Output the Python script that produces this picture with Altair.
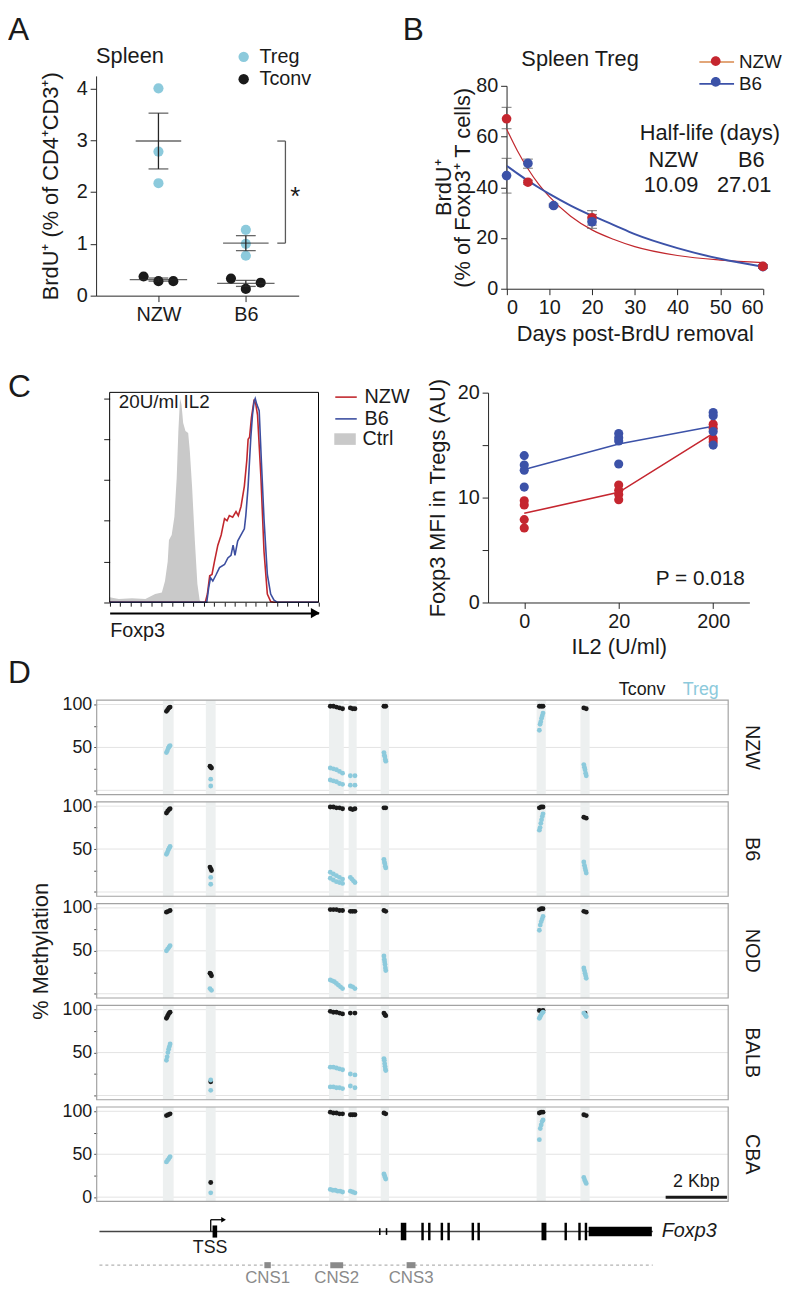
import altair as alt
import numpy as np
import pandas as pd

FONT = "Liberation Sans"
INK = "#1a1a1a"
AX = "#262626"
RED = "#c5262f"
BLUE = "#3c52a8"
ORANGE = "#d8884c"
HRED = "#c1272d"
HBLUE = "#3c4ea0"
TREG_C = "#8ccadc"
CTRL_C = "#c9c9c9"
BAND_C = "#edf0f0"
FRAME_C = "#a3a3a3"
CNS_C = "#8a8a8a"

# ---------------- Panel A data ----------------
A_STRAINS = ["NZW", "B6"]
A_TREG_NZW = [4.0, 2.78, 2.17]
A_TREG_B6 = [1.27, 1.0, 0.77]
A_TCONV_NZW = [0.37, 0.28, 0.28]
A_TCONV_B6 = [0.33, 0.13, 0.25]

# ---------------- Panel B data ----------------
B_SERIES = ["NZW", "B6"]
B_DAYS_NZW = [0, 5, 20, 60]
B_MEAN_NZW = [67.0, 42.0, 28.0, 8.8]
B_LO_NZW = [63.1, 41.2, 25.1, 8.1]
B_HI_NZW = [71.5, 42.8, 30.8, 9.5]
B_DAYS_B6 = [0, 5, 11, 20, 60]
B_MEAN_B6 = [44.6, 49.4, 32.8, 26.4, 8.7]
B_LO_B6 = [37.7, 47.5, 32.2, 23.8, 8.1]
B_HI_B6 = [51.4, 51.1, 33.4, 29.3, 9.3]
FIT_DAYS = [0, 2.5, 5, 7.5, 10, 15, 20, 25, 30, 40, 50, 60]
FIT_NZW = [63.0, 54.5, 47.3, 41.2, 36.3, 28.6, 23.2, 19.5, 16.6, 13.1, 11.3, 10.3]
FIT_B6 = [48.5, 45.5, 42.6, 39.9, 37.4, 32.8, 28.8, 25.2, 21.5, 16.0, 11.8, 8.7]
B_TEXTS = ["Spleen Treg", "Half-life (days)", "NZW", "B6", "10.09", "27.01"]
B_TEXT_X = [17.2, 47.6, 39.0, 57.3, 38.5, 55.6]
B_TEXT_Y = [90.4, 61.2, 50.7, 50.7, 41.0, 41.0]

# ---------------- Panel C data ----------------
CTRL_CH = [0, 44, 107, 171, 218, 250, 265, 278, 284, 297, 310, 321, 329, 337, 344,
           352, 363, 376, 384, 395, 408, 420, 431, 442, 1000]
CTRL_PCT = [2.4, 1.6, 1.9, 1.6, 4.0, 4.8, 10.4, 20.0, 30.5, 33.0, 42.0, 61.0, 84.0,
            100.0, 97.0, 88.0, 84.0, 83.0, 74.0, 56.0, 30.0, 9.0, 1.0, 0.0, 0.0]
NZW_CH = [0, 458, 468, 479, 490, 502, 518, 534, 550, 562, 573, 589, 605, 616, 629,
          645, 657, 663, 670, 679, 692, 700, 708, 724, 739, 755, 771, 787, 1000]
NZW_PCT = [0, 0, 4, 13, 13.6, 20, 28, 33, 41, 40, 42.5, 41.7, 44.5, 42.5, 47, 57,
           70, 80, 81, 90.7, 99.5, 97, 92, 62, 25, 4, 0.3, 0, 0]
B6_CH = [0, 465, 474, 483, 494, 510, 526, 550, 566, 581, 591, 600, 613, 629, 645,
         652, 663, 676, 684, 692, 697, 705, 716, 727, 739, 755, 771, 787, 802, 1000]
B6_PCT = [0, 0, 7, 12, 10.4, 13.6, 17, 18.5, 21.7, 23, 28, 23, 30, 33, 36, 42.5,
          57, 81, 92, 98.7, 100, 97, 94, 68, 41, 13.6, 4, 1, 0, 0]
C_LINES = ["NZW", "B6"]
C_FILLS = ["Ctrl"]

C_IL2 = ["0", "20", "200"]
C_NZW_0 = [9.7, 9.3, 7.9, 7.1]
C_NZW_20 = [11.2, 10.7, 10.3, 9.8]
C_NZW_200 = [17.0, 16.6, 15.6, 15.3]
C_B6_0 = [14.0, 13.1, 12.6, 11.0]
C_B6_20 = [16.1, 15.7, 15.4, 13.2]
C_B6_200 = [18.1, 17.8, 16.3, 15.0]

# ---------------- Panel D data ----------------
D_STRAINS = ["NZW", "B6", "NOD", "BALB", "CBA"]
BAND_CENTER = [2.335, 3.72, 7.82, 8.35, 9.40, 14.5, 15.93]   # kbp
BAND_WIDTH = [0.35, 0.32, 0.48, 0.26, 0.27, 0.30, 0.30]
BAND_SPAN = [0.12, 0.05, 0.40, 0.15, 0.06, 0.12, 0.08]
NZW_TCONV = [[[92, 94, 96, 97]], [[28, 27, 26]], [[98, 98, 97, 96, 95]], [[96, 95, 95]],
             [[98, 98]], [[98, 98, 98]], [[96, 95]]]
NZW_TREG = [[[44, 46, 49, 51, 52]], [[13], [5]], [[26, 25, 24, 22, 20], [12, 11, 10, 8, 7]],
            [[17, 17], [6, 6]], [[44, 41, 39, 36, 34]], [[70, 77, 80, 84, 87, 90]],
            [[30, 27, 24, 20, 17]]]
B6_TCONV = [[[92, 94, 96, 97]], [[29, 27, 25]], [[99, 99, 98, 98, 97]], [[97, 96, 97]],
            [[98, 98]], [[98, 99, 99]], [[87, 86]]]
B6_TREG = [[[44, 46, 49, 51, 53]], [[17], [9]], [[23, 21, 19, 17, 15], [16, 14, 12, 11, 10]],
           [[17, 15, 13, 11]], [[38, 35, 33, 30, 28]], [[72, 75, 80, 84, 88, 91]],
           [[35, 31, 28, 25, 22]]]
NOD_TCONV = [[[95, 96, 97]], [[24, 23, 21]], [[98, 98, 98, 97, 97]], [[96, 96, 96]],
             [[97, 96]], [[98, 99, 99]], [[96, 95]]]
NOD_TREG = [[[50, 52, 54, 56]], [[6, 4]], [[16, 15, 14, 12, 10, 8, 6]], [[9, 8, 6]],
            [[44, 40, 37, 34, 30, 27]], [[74, 80, 84, 87, 90]], [[30, 27, 24, 21, 18]]]
BALB_TCONV = [[[90, 92, 94, 96, 97]], [[16]], [[98, 97, 97, 96, 95]], [[96, 96]],
              [[96, 94, 93]], [[99, 99]], [[96]]]
BALB_TREG = [[[41, 45, 50, 54, 57, 60]], [[18], [6]], [[33, 33, 32, 31, 30], [10, 10, 9, 9, 8]],
             [[25, 24], [11, 9]], [[43, 41, 37, 34, 31, 29]], [[90, 92, 94, 96, 97]],
             [[96, 94, 92]]]
CBA_TCONV = [[[95, 96, 97]], [[17]], [[99, 98, 98, 97, 97]], [[96, 96, 96]],
             [[98, 97]], [[98, 99, 99]], [[96, 95]]]
CBA_TREG = [[[41, 43, 45, 47]], [[5]], [[9, 8, 8, 7, 7, 6]], [[7, 6, 5]],
            [[27, 25, 23, 21]], [[67, 80, 84, 88, 90]], [[23, 20, 18, 16]]]
D_TCONV = [NZW_TCONV, B6_TCONV, NOD_TCONV, BALB_TCONV, CBA_TCONV]
D_TREG = [NZW_TREG, B6_TREG, NOD_TREG, BALB_TREG, CBA_TREG]
D_GRID = [0, 50, 100]

# gene model (kbp)
GENE_SPAN = [0.09, 18.14]
EXON_START = [3.78, 9.21, 9.43, 9.92, 10.59, 10.81, 11.22, 11.44, 12.23, 12.42, 14.51, 15.26, 15.71, 15.92, 16.05]
EXON_END = [3.93, 9.26, 9.48, 10.10, 10.67, 10.89, 11.30, 11.52, 12.31, 12.50, 14.67, 15.34, 15.79, 16.00, 18.11]
EXON_HALF = [0.18, 0.1, 0.1, 0.26, 0.26, 0.26, 0.26, 0.26, 0.26, 0.26, 0.26, 0.26, 0.26, 0.26, 0.14]
TSS_POS = 3.72
CNS_NAMES = ["CNS1", "CNS2", "CNS3"]
CNS_START = [5.47, 7.62, 10.11]
CNS_END = [5.68, 8.04, 10.40]

# ---------------- layout (pixels inside the drawing) ----------------
W, H = 785, 1286
A_XR, A_YR = [89, 293.7], [284, 62]
B_XR, B_YR = [503.7, 762.7], [277, 72]
C1_XR, C1_YR = [102.7, 313.7], [593.7, 381.7]
C2_XR, C2_YR = [485, 749], [594, 382]
D_XR = [89.6, 727.6]
D_TOPS = [692.7, 795.4, 898.2, 1001.0, 1103.7]
D_H = 95.4
G_YR = [1283.9, 1205.7]


def X(f, s, a=None):
    return alt.X(f, scale=s, axis=a)


def Y(f, s, a=None):
    return alt.Y(f, scale=s, axis=a)


def left_axis(range_, **kw):
    return alt.Axis(orient="left", offset=-range_[0], grid=False, **kw)


def bottom_axis(yrange, extra=0, **kw):
    return alt.Axis(orient="bottom", offset=-(H - yrange[0]) + extra, grid=False, **kw)


def legend_layer(domain, colors, filled, legend):
    return alt.Chart(pd.DataFrame({"series": domain})).mark_point(opacity=0, filled=filled).encode(
        color=alt.Color("series:N", scale=alt.Scale(domain=domain, range=colors), legend=legend))


# ================= Panel A =================
a_rows = []
for idx, (strain, treg, tconv) in enumerate(
        zip(A_STRAINS, [A_TREG_NZW, A_TREG_B6], [A_TCONV_NZW, A_TCONV_B6]), start=1):
    for r, v in enumerate(treg):
        a_rows.append({"strain": strain, "sidx": idx, "cell": "Treg", "rep": r, "value": v})
    for r, v in enumerate(tconv):
        a_rows.append({"strain": strain, "sidx": idx, "cell": "Tconv", "rep": r, "value": v})
a_df = pd.DataFrame(a_rows)

a_xs = alt.Scale(domain=[0.2865, 2.605], range=A_XR, nice=False, zero=False)
a_ys = alt.Scale(domain=[0, 4.24], range=A_YR, nice=False)
a_xax = bottom_axis(A_YR, values=[1, 2], labelExpr="datum.value == 1 ? 'NZW' : 'B6'", title=None,
                    tickSize=6, labelFontSize=20, labelPadding=3)
a_yax = left_axis(A_XR, values=[0, 1, 2, 3, 4], title="BrdU⁺ (% of CD4⁺CD3⁺)", titleFontSize=22,
                  titlePadding=14, tickSize=6, labelFontSize=20, labelPadding=3)

a_base = alt.Chart(a_df)
a_pts = a_base.transform_calculate(
    xpos="datum.sidx + (datum.cell == 'Tconv' ? (datum.rep - 1) * 0.17 : 0)"
).mark_circle(size=105, opacity=1).encode(
    x=X("xpos:Q", a_xs, a_xax), y=Y("value:Q", a_ys, a_yax),
    color=alt.Color("cell:N", scale=alt.Scale(domain=["Treg", "Tconv"], range=[TREG_C, INK]),
                    legend=alt.Legend(title=None, orient="none", legendX=228.1, legendY=32.7,
                                      labelFontSize=20, symbolSize=110, labelOffset=6,
                                      rowPadding=2.6, padding=0)))
a_sum = a_base.transform_aggregate(
    mean="mean(value)", se="stderr(value)", groupby=["sidx", "cell"]
).transform_calculate(lo="datum.mean - datum.se", hi="datum.mean + datum.se")
a_err = a_sum.mark_rule(color=AX, strokeWidth=1.3).encode(
    x=X("sidx:Q", a_xs, a_xax), y=Y("lo:Q", a_ys, a_yax), y2="hi:Q")
a_caps = a_sum.transform_fold(["lo", "hi"], as_=["end", "v"]).mark_tick(
    orient="horizontal", size=20, thickness=1.3, color=AX).encode(
    x=X("sidx:Q", a_xs, a_xax), y=Y("v:Q", a_ys, a_yax))
a_mtreg = a_sum.transform_filter("datum.cell == 'Treg'").mark_tick(
    orient="horizontal", size=46, thickness=1.4, color=AX).encode(
    x=X("sidx:Q", a_xs, a_xax), y=Y("mean:Q", a_ys, a_yax))
a_mtconv = a_sum.transform_filter("datum.cell == 'Tconv'").mark_tick(
    orient="horizontal", size=58, thickness=1.4, color=AX).encode(
    x=X("sidx:Q", a_xs, a_xax), y=Y("mean:Q", a_ys, a_yax))

m_nzw = float(np.mean(A_TREG_NZW))
m_b6 = float(np.mean(A_TREG_B6))
BR_X, BR_ARM_X, STAR_X = 2.453, 2.36, 2.566
br_df = pd.DataFrame({"x": [BR_X, BR_ARM_X, BR_ARM_X], "x2": [BR_X, BR_X, BR_X],
                      "y": [m_nzw, m_nzw, m_b6], "y2": [m_b6, m_nzw, m_b6]})
a_br = alt.Chart(br_df).mark_rule(color="#5a5a5a", strokeWidth=1.3).encode(
    x=X("x:Q", a_xs, a_xax), x2="x2:Q", y=Y("y:Q", a_ys, a_yax), y2="y2:Q")
star_df = pd.DataFrame({"x": [STAR_X], "y": [(m_nzw + m_b6) / 2], "t": ["*"]})
a_star = alt.Chart(star_df).mark_text(fontSize=26, baseline="alphabetic", dy=13, color=INK).encode(
    x=X("x:Q", a_xs, a_xax), y=Y("y:Q", a_ys, a_yax), text="t:N")
a_lbl = alt.Chart(pd.DataFrame({"x": [0.2865], "y": [4.62], "t": ["Spleen"]})).mark_text(
    fontSize=22, align="left", baseline="middle", color=INK).encode(
    x=X("x:Q", a_xs, a_xax), y=Y("y:Q", a_ys, a_yax), text="t:N")
panelA = alt.layer(a_pts, a_err, a_caps, a_mtreg, a_mtconv, a_br, a_star, a_lbl)

# ================= Panel B =================
b_xs = alt.Scale(domain=[0, 60], range=B_XR, nice=False)
b_ys = alt.Scale(domain=[0, 80], range=B_YR, nice=False)
b_xax = bottom_axis(B_YR, values=list(range(0, 61, 10)), title="Days post-BrdU removal",
                    titleFontSize=22, titlePadding=6, tickSize=6, labelFontSize=20, labelPadding=3)
b_yax = left_axis(B_XR, values=[0, 20, 40, 60, 80], title=["BrdU⁺", "(% of Foxp3⁺ T cells)"],
                  titleFontSize=22, titlePadding=1, titleLineHeight=19, tickSize=6,
                  labelFontSize=20, labelPadding=3)

fit_df = pd.DataFrame({"day": FIT_DAYS * 2, "val": FIT_NZW + FIT_B6,
                       "series": ["NZW"] * len(FIT_DAYS) + ["B6"] * len(FIT_DAYS)})
nzw_df = pd.DataFrame({"series": "NZW", "day": B_DAYS_NZW, "m": B_MEAN_NZW, "lo": B_LO_NZW, "hi": B_HI_NZW})
b6_df = pd.DataFrame({"series": "B6", "day": B_DAYS_B6, "m": B_MEAN_B6, "lo": B_LO_B6, "hi": B_HI_B6})
b_pts_df = pd.concat([b6_df[b6_df.day == 60], nzw_df, b6_df[b6_df.day != 60]], ignore_index=True)

b_fit_n = alt.Chart(fit_df).transform_filter("datum.series == 'NZW'").mark_line(
    color=HRED, strokeWidth=1.2, interpolate="monotone").encode(
    x=X("day:Q", b_xs, b_xax), y=Y("val:Q", b_ys, b_yax))
b_fit_b = alt.Chart(fit_df).transform_filter("datum.series == 'B6'").mark_line(
    color=BLUE, strokeWidth=2.0, interpolate="monotone").encode(
    x=X("day:Q", b_xs, b_xax), y=Y("val:Q", b_ys, b_yax))
b_err = alt.Chart(b_pts_df).mark_rule(color="#5e5e5e", strokeWidth=1.2).encode(
    x=X("day:Q", b_xs, b_xax), y=Y("lo:Q", b_ys, b_yax), y2="hi:Q")
b_caps = alt.Chart(b_pts_df).transform_fold(["lo", "hi"], as_=["end", "v"]).mark_tick(
    orient="horizontal", size=10, thickness=1.2, color="#5e5e5e").encode(
    x=X("day:Q", b_xs, b_xax), y=Y("v:Q", b_ys, b_yax))
b_pts = alt.Chart(b_pts_df).mark_circle(size=95, opacity=1).encode(
    x=X("day:Q", b_xs, b_xax), y=Y("m:Q", b_ys, b_yax),
    color=alt.Color("series:N", scale=alt.Scale(domain=B_SERIES, range=[RED, BLUE]), legend=None))
b_txt = alt.Chart(pd.DataFrame({"t": B_TEXTS, "x": B_TEXT_X, "y": B_TEXT_Y})).mark_text(
    fontSize=22, baseline="middle", color=INK).encode(
    x=X("x:Q", b_xs, b_xax), y=Y("y:Q", b_ys, b_yax), text="t:N")
panelB = alt.layer(b_fit_n, b_fit_b, b_err, b_caps, b_pts, b_txt)

LEG_B_LINE = alt.Legend(title=None, orient="none", legendX=704, legendY=36, symbolType="M-1.6,0H1.6",
                        symbolSize=480, symbolStrokeWidth=1.6, symbolOpacity=1, labelFontSize=19,
                        labelOffset=10.5, rowPadding=0, padding=0)
LEG_B_DOT = alt.Legend(title=None, orient="none", legendX=704, legendY=36,
                       symbolType="M0.45,0A0.45,0.45,0,1,1,-0.45,0A0.45,0.45,0,1,1,0.45,0",
                       symbolSize=480, symbolStrokeWidth=0, symbolOpacity=1, labelFontSize=19,
                       labelExpr="''", labelOffset=10.5, rowPadding=0, padding=0)
legB1 = legend_layer(B_SERIES, [ORANGE, BLUE], False, LEG_B_LINE)
legB2 = legend_layer(B_SERIES, [RED, BLUE], True, LEG_B_DOT)

# ================= Panel C (histogram) =================
c1_xs = alt.Scale(domain=[0, 1000], range=C1_XR, nice=False)
c1_ys = alt.Scale(domain=[0, 103], range=C1_YR, nice=False)
c1_xax = bottom_axis(C1_YR, values=list(range(0, 1001, 50)), labels=False, title=None, tickSize=4,
                     domain=False, tickColor=INK)
c1_yax = left_axis(C1_XR, values=[0, 20, 40, 60, 80, 100], labels=False, title=None, tickSize=6,
                   domain=False, tickColor=INK)
arrow_ax = bottom_axis(C1_YR, extra=11, domain=True, domainWidth=2, domainColor="black",
                       ticks=False, labels=False, title="Foxp3", titleAnchor="start",
                       titleAlign="left", titleFontSize=20, titlePadding=8)

ctrl_df = pd.DataFrame({"ch": CTRL_CH, "pct": CTRL_PCT})
hn_df = pd.DataFrame({"ch": NZW_CH, "pct": NZW_PCT})
hb_df = pd.DataFrame({"ch": B6_CH, "pct": B6_PCT})
c1_area = alt.Chart(ctrl_df).mark_area(color=CTRL_C, opacity=1).encode(
    x=X("ch:Q", c1_xs, c1_xax), y=Y("pct:Q", c1_ys, c1_yax))
c1_n = alt.Chart(hn_df).mark_line(color=HRED, strokeWidth=1.6).encode(
    x=X("ch:Q", c1_xs), y=Y("pct:Q", c1_ys, c1_yax))
c1_b = alt.Chart(hb_df).mark_line(color=HBLUE, strokeWidth=1.6).encode(
    x=X("ch:Q", c1_xs), y=Y("pct:Q", c1_ys, c1_yax))
c1_frame = alt.Chart(pd.DataFrame({"x": [0], "x2": [1000], "y": [0], "y2": [103]})).mark_rect(
    fill="transparent", stroke="black", strokeWidth=1).encode(
    x=X("x:Q", c1_xs), x2="x2:Q", y=Y("y:Q", c1_ys, c1_yax), y2="y2:Q")
c1_txt = alt.Chart(pd.DataFrame({"x": [44], "y": [98], "t": ["20U/ml IL2"]})).mark_text(
    fontSize=19, align="left", baseline="middle", color=INK).encode(
    x=X("x:Q", c1_xs), y=Y("y:Q", c1_ys, c1_yax), text="t:N")
c1_arrow = alt.Chart(pd.DataFrame({"ch": [985]})).mark_point(
    shape="triangle-right", filled=True, size=110, color="black", opacity=1).encode(
    x=X("ch:Q", c1_xs, arrow_ax), y=alt.value(C1_YR[0] + 11))
panelC1 = alt.layer(c1_area, c1_n, c1_b, c1_frame, c1_txt, c1_arrow).resolve_axis(x="independent")

LEG_C_LINE = alt.Legend(title=None, orient="none", legendX=329.5, legendY=374.5, symbolType="M-1,0H1",
                        symbolSize=471, symbolStrokeWidth=1.6, symbolOpacity=1, labelFontSize=20,
                        labelOffset=6.7, rowPadding=0, padding=0)
LEG_C_FILL = alt.Legend(title=None, orient="none", legendX=329.5, legendY=417.9,
                        symbolType="M-1,-0.54H1V0.54H-1Z", symbolSize=471, symbolStrokeWidth=0,
                        symbolOpacity=1, labelFontSize=20, labelOffset=6.7, rowPadding=0, padding=0)
legC1 = legend_layer(C_LINES, [HRED, HBLUE], False, LEG_C_LINE)
legC2 = legend_layer(C_FILLS, [CTRL_C], True, LEG_C_FILL)

# ================= Panel C (MFI) =================
c2_rows = []
for strain, groups in [("NZW", [C_NZW_0, C_NZW_20, C_NZW_200]), ("B6", [C_B6_0, C_B6_20, C_B6_200])]:
    for il2, vals in zip(C_IL2, groups):
        for v in vals:
            c2_rows.append({"strain": strain, "il2": il2, "value": v})
c2_df = pd.DataFrame(c2_rows)
c2_xs = alt.Scale(type="point", domain=C_IL2, range=C2_XR, padding=0.383)
c2_ys = alt.Scale(domain=[0, 20], range=C2_YR, nice=False)
c2_xax = bottom_axis(C2_YR, title="IL2 (U/ml)", titleFontSize=22, labelFontSize=20, tickSize=6,
                     labelAngle=0, labelPadding=3, titlePadding=6)
c2_yax = left_axis(C2_XR, values=[0, 5, 10, 15, 20], labelExpr="datum.value % 10 == 0 ? datum.label : ''",
                   title="Foxp3 MFI in Tregs (AU)", titleFontSize=22, titlePadding=8, tickSize=6,
                   labelFontSize=20, labelPadding=3)
strain_col = alt.Color("strain:N", scale=alt.Scale(domain=["NZW", "B6"], range=[RED, BLUE]), legend=None)
c2_line = alt.Chart(c2_df).mark_line(strokeWidth=1.6).encode(
    x=X("il2:O", c2_xs, c2_xax), y=Y("mean(value):Q", c2_ys, c2_yax), color=strain_col)
c2_pts = alt.Chart(c2_df).mark_circle(size=85, opacity=1).encode(
    x=X("il2:O", c2_xs, c2_xax), y=Y("value:Q", c2_ys, c2_yax), color=strain_col)
c2_p = alt.Chart(pd.DataFrame({"x": ["200"], "y": [2.26], "t": ["P = 0.018"]})).mark_text(
    fontSize=21, baseline="middle", dx=-13, color=INK).encode(
    x=X("x:O", c2_xs, c2_xax), y=Y("y:Q", c2_ys, c2_yax), text="t:N")
panelC2 = alt.layer(c2_line, c2_pts, c2_p)

# ================= Panel D =================
d_rec = []
for strain, tconv, treg in zip(D_STRAINS, D_TCONV, D_TREG):
    for cell, bands in [("Tconv", tconv), ("Treg", treg)]:
        for b, rows in enumerate(bands):
            for row in rows:
                n = len(row)
                for k, v in enumerate(row):
                    frac = 0.5 if n == 1 else k / (n - 1)
                    d_rec.append({"strain": strain, "cell": cell,
                                  "pos": BAND_CENTER[b] + (frac - 0.5) * BAND_SPAN[b], "meth": v})
d_df = pd.DataFrame(d_rec)
band_df = pd.DataFrame({"center": BAND_CENTER, "width": BAND_WIDTH})
D_XDOM = [0, 20.6]
D_YDOM = [-5, 105]
d_xs = alt.Scale(domain=D_XDOM, range=D_XR, nice=False, zero=False)
cell_scale = alt.Scale(domain=["Tconv", "Treg"], range=[INK, TREG_C])


def d_panel(i, strain):
    last = i == len(D_STRAINS) - 1
    top = D_TOPS[i]
    ys = alt.Scale(domain=D_YDOM, range=[top + D_H, top], nice=False)
    expr = ("datum.value % 50 == 0 ? datum.label : ''" if last
            else "datum.value == 100 || datum.value == 50 ? datum.label : ''")
    yax = left_axis(D_XR, values=[0, 25, 50, 75, 100], labelExpr=expr, tickSize=3,
                    tickColor="#4d4d4d", domain=False, labelFontSize=18, labelPadding=2,
                    title="% Methylation" if i == 2 else None, titleFontSize=22, titlePadding=10)
    grid = alt.Chart(pd.DataFrame({"y": D_GRID})).transform_calculate(
        x1=str(D_XDOM[0]), x2=str(D_XDOM[1])).mark_rule(color="#e3e3e3", strokeWidth=1).encode(
        x=X("x1:Q", d_xs), x2="x2:Q", y=Y("y:Q", ys, yax))
    bands = alt.Chart(band_df).transform_calculate(
        x1="datum.center - datum.width / 2", x2="datum.center + datum.width / 2",
        y1=str(D_YDOM[0]), y2=str(D_YDOM[1])
    ).mark_rect(color=BAND_C).encode(x=X("x1:Q", d_xs), x2="x2:Q", y=Y("y1:Q", ys, yax), y2="y2:Q")
    frame = alt.Chart(pd.DataFrame({"x": [D_XDOM[0]], "x2": [D_XDOM[1]], "y": [D_YDOM[0]],
                                    "y2": [D_YDOM[1]]})).mark_rect(
        fill="transparent", stroke=FRAME_C, strokeWidth=1.2).encode(
        x=X("x:Q", d_xs), x2="x2:Q", y=Y("y:Q", ys, yax), y2="y2:Q")
    pts = alt.Chart(d_df).transform_filter(alt.datum.strain == strain).mark_circle(
        size=24, opacity=1).encode(
        x=X("pos:Q", d_xs), y=Y("meth:Q", ys, yax),
        color=alt.Color("cell:N", scale=cell_scale, legend=None))
    lab = alt.Chart(pd.DataFrame({"x": [21.39], "y": [50], "t": [strain]})).mark_text(
        fontSize=20, angle=90, baseline="middle", color=INK).encode(
        x=X("x:Q", d_xs), y=Y("y:Q", ys, yax), text="t:N")
    layers = [grid, bands, frame, pts, lab]
    if i == 0:
        layers.append(alt.Chart(pd.DataFrame({"x": [18.55], "y": [117], "t": ["Tconv"]})).mark_text(
            fontSize=18, align="right", baseline="middle", color=INK).encode(
            x=X("x:Q", d_xs), y=Y("y:Q", ys, yax), text="t:N"))
        layers.append(alt.Chart(pd.DataFrame({"x": [19.12], "y": [117], "t": ["Treg"]})).mark_text(
            fontSize=18, align="left", baseline="middle", color=TREG_C).encode(
            x=X("x:Q", d_xs), y=Y("y:Q", ys, yax), text="t:N"))
    if last:
        layers.append(alt.Chart(pd.DataFrame({"x": [18.56], "x2": [20.56], "y": [0]})).mark_rule(
            strokeWidth=3, color=INK).encode(x=X("x:Q", d_xs), x2="x2:Q", y=Y("y:Q", ys, yax)))
        layers.append(alt.Chart(pd.DataFrame({"x": [19.56], "y": [17], "t": ["2 Kbp"]})).mark_text(
            fontSize=18, baseline="middle", color=INK).encode(
            x=X("x:Q", d_xs), y=Y("y:Q", ys, yax), text="t:N"))
    return alt.layer(*layers)


panels = [d_panel(i, s) for i, s in enumerate(D_STRAINS)]

# gene model
g_ys = alt.Scale(domain=[-1.6, 0.7], range=G_YR, nice=False, zero=False)
gline = alt.Chart(pd.DataFrame({"x": [GENE_SPAN[0]], "x2": [GENE_SPAN[1]], "y": [0]})).mark_rule(
    color="#444444", strokeWidth=1.5).encode(x=X("x:Q", d_xs), x2="x2:Q", y=Y("y:Q", g_ys))
exon_df = pd.DataFrame({"s": EXON_START, "e": EXON_END, "h": EXON_HALF})
gexon = alt.Chart(exon_df).transform_calculate(y1="-datum.h", y2="datum.h").mark_rect(
    color="black").encode(x=X("s:Q", d_xs), x2="e:Q", y=Y("y1:Q", g_ys), y2="y2:Q")
tss_df = pd.DataFrame({"x": [TSS_POS, TSS_POS], "x2": [TSS_POS, TSS_POS + 0.42],
                       "y": [0, 0.35], "y2": [0.35, 0.35]})
gtss = alt.Chart(tss_df).mark_rule(color="black", strokeWidth=1.3).encode(
    x=X("x:Q", d_xs), x2="x2:Q", y=Y("y:Q", g_ys), y2="y2:Q")
gtss_head = alt.Chart(pd.DataFrame({"x": [TSS_POS + 0.42], "y": [0.35]})).mark_point(
    shape="triangle-right", filled=True, size=30, color="black", opacity=1).encode(
    x=X("x:Q", d_xs), y=Y("y:Q", g_ys))
gtxt = alt.Chart(pd.DataFrame({"x": [3.70], "y": [-0.5], "t": ["TSS"]})).mark_text(
    fontSize=18, baseline="middle", color=INK).encode(
    x=X("x:Q", d_xs), y=Y("y:Q", g_ys), text="t:N")
gname = alt.Chart(pd.DataFrame({"x": [18.43], "y": [0], "t": ["Foxp3"]})).mark_text(
    fontSize=20, fontStyle="italic", align="left", baseline="middle", color=INK).encode(
    x=X("x:Q", d_xs), y=Y("y:Q", g_ys), text="t:N")
cline = alt.Chart(pd.DataFrame({"x": [GENE_SPAN[0]], "x2": [GENE_SPAN[1]], "y": [-1]})).mark_rule(
    color="#b3b3b3", strokeWidth=1.2, strokeDash=[3, 3]).encode(
    x=X("x:Q", d_xs), x2="x2:Q", y=Y("y:Q", g_ys))
cns_df = pd.DataFrame({"name": CNS_NAMES, "s": CNS_START, "e": CNS_END})
cbox = alt.Chart(cns_df).transform_calculate(y1="-1.09", y2="-0.91").mark_rect(color=CNS_C).encode(
    x=X("s:Q", d_xs), x2="e:Q", y=Y("y1:Q", g_ys), y2="y2:Q")
clab = alt.Chart(cns_df).transform_calculate(mid="(datum.s + datum.e) / 2", yy="-1.38").mark_text(
    fontSize=17, baseline="middle", color=CNS_C).encode(
    x=X("mid:Q", d_xs), y=Y("yy:Q", g_ys), text="name:N")
gene = alt.layer(gline, gexon, gtss, gtss_head, gtxt, gname, cline, cbox, clab)

# ================= panel letters =================
LETTERS = ["A", "B", "C", "D"]
LETTER_X = [0, 398.7, 0, 0]
LETTER_Y = [26, 26, 386, 675.5]
letters = [alt.Chart(pd.DataFrame({"t": [t]})).mark_text(
    fontSize=32, align="left", baseline="alphabetic", color=INK).encode(
    x=alt.value(lx), y=alt.value(ly), text="t:N") for t, lx, ly in zip(LETTERS, LETTER_X, LETTER_Y)]

chart = alt.layer(panelA, panelB, panelC1, panelC2, *panels, gene,
                  legB1, legB2, legC1, legC2, *letters).resolve_scale(
    x="independent", y="independent", color="independent"
).resolve_axis(x="independent", y="independent").resolve_legend(
    color="independent"
).properties(width=W, height=H, padding=0, autosize=alt.AutoSizeParams(type="none")).configure(
    font=FONT
).configure_view(stroke=None).configure_axis(
    labelColor=INK, titleColor=INK, domainColor=AX, tickColor=AX, titleFontWeight="normal",
    labelFont=FONT, titleFont=FONT
).configure_legend(labelFont=FONT, labelColor=INK)

chart.save("out.html", embed_options={"renderer": "svg", "actions": False})
